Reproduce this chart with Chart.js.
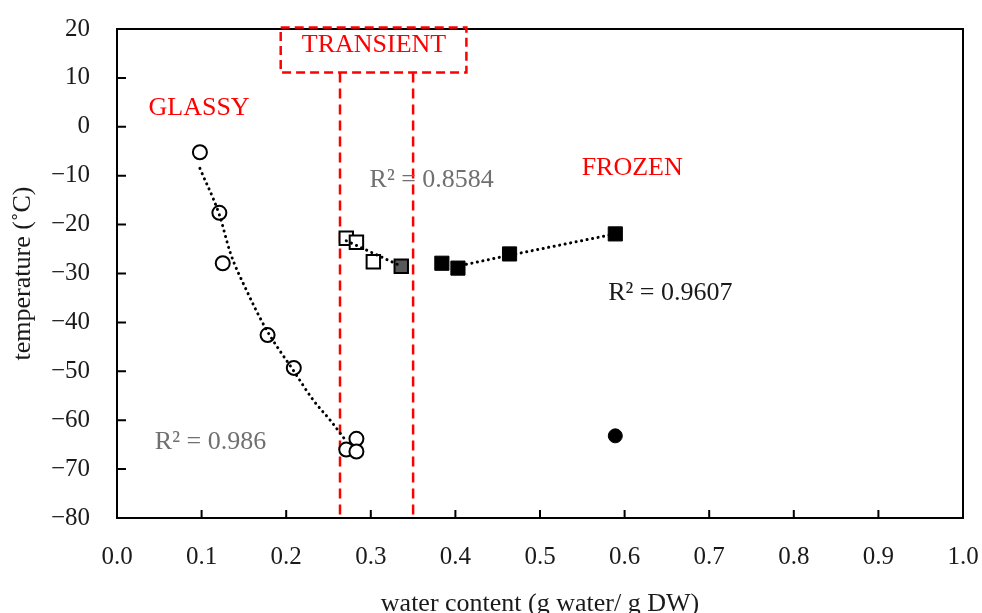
<!DOCTYPE html>
<html>
<head>
<meta charset="utf-8">
<script src="https://cdn.jsdelivr.net/npm/chart.js@4"></script>
<style>html,body{margin:0;padding:0;background:#fff;}</style>
</head>
<body>
<canvas id="chart" width="982" height="613"></canvas>
<script>
// glassy state (open circles)
const glassyX = [0.098, 0.121, 0.125, 0.178, 0.209, 0.271, 0.283, 0.283];
const glassyY = [-5.2, -17.6, -27.9, -42.6, -49.3, -66.0, -63.8, -66.4];
// transient state (open squares, one grey square)
const transX = [0.271, 0.283, 0.303];
const transY = [-22.8, -23.6, -27.6];
const greyX = [0.336];
const greyY = [-28.5];
// frozen state (black squares)
const frozenX = [0.384, 0.403, 0.464, 0.589];
const frozenY = [-27.9, -28.9, -26.0, -21.9];
// lone black circle
const dotX = [0.589];
const dotY = [-63.2];

// trendlines
const glassyFitX = [0.098, 0.121, 0.134, 0.153, 0.177, 0.208, 0.232, 0.252, 0.271];
const glassyFitY = [-8.5, -18.0, -25.8, -33.4, -41.6, -49.7, -55.9, -60.0, -64.3];
const transFitX = [0.271, 0.336];
const transFitY = [-23.3, -28.5];
const frozenFitX = [0.40, 0.46, 0.589];
const frozenFitY = [-28.6, -26.4, -21.9];

// transient zone
const zoneX = [0.2636, 0.35];
const zoneTop = 11.1;
const boxX = [0.1935, 0.413];
const boxY = [20.3, 11.1];

// axis ticks
const xTicks = [0, 0.1, 0.2, 0.3, 0.4, 0.5, 0.6, 0.7, 0.8, 0.9, 1.0];
const yTicks = [20, 10, 0, -10, -20, -30, -40, -50, -60, -70, -80];

// text labels in the plot
const noteText = ['GLASSY', 'FROZEN', 'TRANSIENT', 'R\u00b2 = 0.8584', 'R\u00b2 = 0.9607', 'R\u00b2 = 0.986'];
const noteX = [0.097, 0.609, 0.3038, 0.372, 0.654, 0.1105];
const noteY = [3.9, -8.4, 16.7, -11.0, -34.0, -64.5];
const noteColor = ['#ff0000', '#ff0000', '#ff0000', '#707070', '#1a1a1a', '#707070'];

const FONT = "'Liberation Serif', 'DejaVu Serif', serif";
const pts = (xs, ys) => xs.map((x, i) => ({x: x, y: ys[i]}));

const dotted = {
    showLine: true, pointRadius: 0, borderColor: '#000', borderWidth: 3,
    borderDash: [0.1, 5.5], borderCapStyle: 'round', order: 0
};

const extras = {
    id: 'extras',
    afterDraw(chart) {
        const ctx = chart.ctx;
        const xs = chart.scales.x, ys = chart.scales.y;
        const a = chart.chartArea;
        ctx.save();
        // frame
        ctx.strokeStyle = '#000';
        ctx.lineWidth = 2;
        ctx.strokeRect(a.left, a.top, a.right - a.left, a.bottom - a.top);
        // inner ticks
        ctx.beginPath();
        xTicks.forEach(v => {
            const px = xs.getPixelForValue(v);
            ctx.moveTo(px, a.bottom); ctx.lineTo(px, a.bottom - 8);
        });
        yTicks.forEach(v => {
            const py = ys.getPixelForValue(v);
            ctx.moveTo(a.left, py); ctx.lineTo(a.left + 9, py);
        });
        ctx.stroke();
        // transient box
        ctx.strokeStyle = '#ff0000';
        ctx.lineWidth = 2.5;
        ctx.setLineDash([9, 5]);
        const bx0 = xs.getPixelForValue(boxX[0]), bx1 = xs.getPixelForValue(boxX[1]);
        const by0 = ys.getPixelForValue(boxY[0]), by1 = ys.getPixelForValue(boxY[1]);
        ctx.strokeRect(bx0, by0, bx1 - bx0, by1 - by0);
        ctx.setLineDash([]);
        // notes
        ctx.font = '26px ' + FONT;
        ctx.textAlign = 'center';
        ctx.textBaseline = 'middle';
        noteText.forEach((t, i) => {
            ctx.fillStyle = noteColor[i];
            ctx.fillText(t, xs.getPixelForValue(noteX[i]), ys.getPixelForValue(noteY[i]));
        });
        ctx.restore();
    }
};

new Chart(document.getElementById('chart'), {
    type: 'scatter',
    data: {
        datasets: [
            Object.assign({data: pts(glassyFitX, glassyFitY), cubicInterpolationMode: 'monotone'}, dotted),
            Object.assign({data: pts(transFitX, transFitY)}, dotted),
            Object.assign({data: pts(frozenFitX, frozenFitY)}, dotted),
            {data: pts(glassyX, glassyY), pointStyle: 'circle', pointRadius: 7, borderWidth: 2,
             borderColor: '#000', backgroundColor: '#fff', order: 1},
            {data: pts(transX, transY), pointStyle: 'rect', pointRadius: 9.5, borderWidth: 2,
             borderColor: '#000', backgroundColor: '#fff', order: 1},
            {data: pts(greyX, greyY), pointStyle: 'rect', pointRadius: 9.5, borderWidth: 2,
             borderColor: '#000', backgroundColor: '#595959', order: 1},
            {data: pts(frozenX, frozenY), pointStyle: 'rect', pointRadius: 10, borderWidth: 1,
             borderColor: '#000', backgroundColor: '#000', order: 1},
            {data: pts(dotX, dotY), pointStyle: 'circle', pointRadius: 7, borderWidth: 1,
             borderColor: '#000', backgroundColor: '#000', order: 1},
            {data: [{x: zoneX[0], y: zoneTop}, {x: zoneX[0], y: -80}], showLine: true, pointRadius: 0,
             borderColor: '#ff0000', borderWidth: 2.5, borderDash: [10, 6], order: 2},
            {data: [{x: zoneX[1], y: zoneTop}, {x: zoneX[1], y: -80}], showLine: true, pointRadius: 0,
             borderColor: '#ff0000', borderWidth: 2.5, borderDash: [10, 6], order: 2}
        ]
    },
    options: {
        responsive: false,
        animation: false,
        layout: {padding: {top: 29, right: 19, left: 0, bottom: 0}},
        plugins: {legend: {display: false}, tooltip: {enabled: false}},
        scales: {
            x: {
                type: 'linear', min: 0, max: 1,
                afterFit: s => { s.height = 95; s.paddingLeft = 0; s.paddingRight = 0; },
                grid: {drawOnChartArea: false, drawTicks: false},
                border: {color: '#000', width: 2},
                ticks: {stepSize: 0.1, padding: 24, color: '#1a1a1a', font: {family: FONT, size: 25},
                        callback: v => v.toFixed(1)},
                title: {display: true, text: 'water content (g water/ g DW)', color: '#1a1a1a',
                        font: {family: FONT, size: 26}, padding: {top: 0, bottom: -7}}
            },
            y: {
                type: 'linear', min: -80, max: 20,
                afterFit: s => { s.width = 117; s.paddingTop = 0; s.paddingBottom = 0; },
                grid: {drawOnChartArea: false, drawTicks: false},
                border: {color: '#000', width: 2},
                ticks: {stepSize: 10, padding: 27, color: '#1a1a1a', font: {family: FONT, size: 25},
                        callback: v => v < 0 ? '\u2212' + Math.abs(v) : String(v)},
                title: {display: true, text: 'temperature (\u02daC)', color: '#1a1a1a',
                        font: {family: FONT, size: 26}, padding: {top: 8, bottom: 0}}
            }
        }
    },
    plugins: [extras]
});
</script>
</body>
</html>
